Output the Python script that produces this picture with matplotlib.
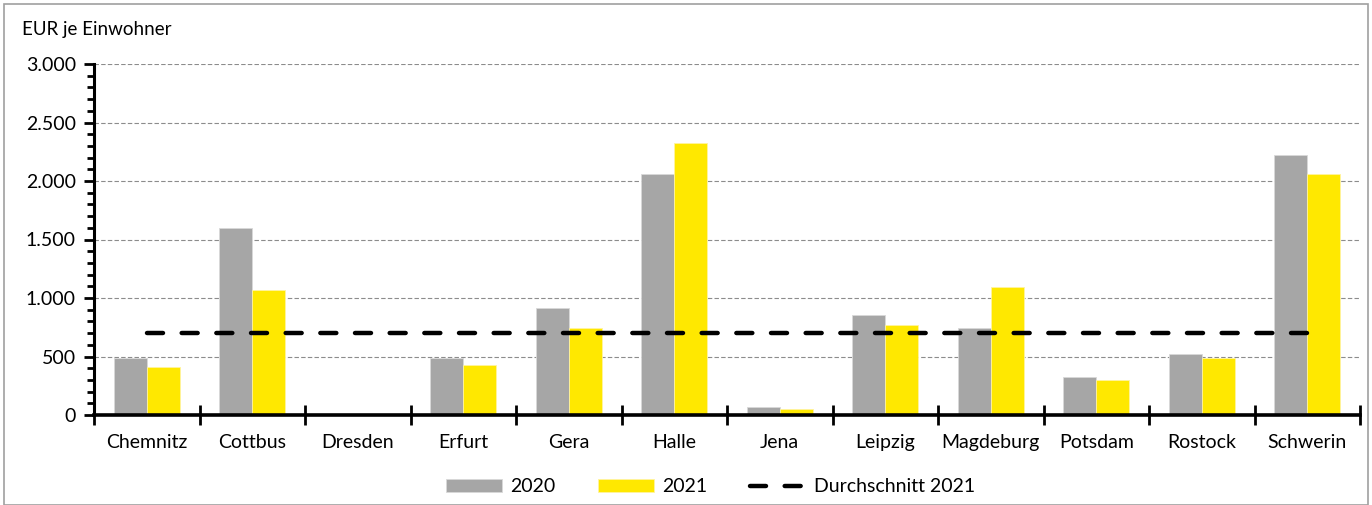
import numpy as np
import matplotlib.pyplot as plt
from matplotlib.patches import Rectangle
from matplotlib.ticker import MultipleLocator, FuncFormatter

staedte = ['Chemnitz', 'Cottbus', 'Dresden', 'Erfurt', 'Gera', 'Halle', 'Jena',
           'Leipzig', 'Magdeburg', 'Potsdam', 'Rostock', 'Schwerin']
werte_2020 = [487, 1600, 0, 490, 915, 2060, 68, 857, 745, 325, 521, 2225]
werte_2021 = [410, 1072, 0, 427, 745, 2328, 51, 770, 1095, 300, 487, 2060]
durchschnitt_2021 = 700

plt.rcParams['font.family'] = ['Lato', 'DejaVu Sans']

fig = plt.figure(figsize=(13.72, 5.05), dpi=100)
ax = fig.add_axes([94/1372, 90/505, 1266/1372, 351/505])

x = np.arange(len(staedte))
w = 0.315
b1 = ax.bar(x - w/2, werte_2020, w, color='#A6A6A6', edgecolor='#D9D9D9', linewidth=0.6, label='2020', zorder=2)
b2 = ax.bar(x + w/2, werte_2021, w, color='#FFE800', edgecolor='#FFF3A0', linewidth=0.6, label='2021', zorder=2)
l1, = ax.plot([x[0], x[-1]], [durchschnitt_2021, durchschnitt_2021], color='black', lw=3.2,
              linestyle=(0, (3.6, 4.2)), dash_capstyle='round', label='Durchschnitt 2021', zorder=3)

ax.set_xlim(-0.5, len(staedte) - 0.5)
ax.set_ylim(0, 3000)

ax.yaxis.set_major_locator(MultipleLocator(500))
ax.yaxis.set_minor_locator(MultipleLocator(100))
ax.yaxis.set_major_formatter(FuncFormatter(lambda v, p: f'{int(v):,}'.replace(',', '.')))
ax.grid(axis='y', which='major', linestyle=(0, (4, 2)), color='#8C8C8C', lw=0.8, zorder=0)

ax.set_xticks(np.arange(-0.5, len(staedte), 1))
ax.set_xticklabels([])
ax.set_xticks(x, minor=True)
ax.set_xticklabels(staedte, minor=True)
ax.tick_params(axis='x', which='major', direction='inout', length=14, width=2)
ax.tick_params(axis='x', which='minor', length=0, pad=14, labelsize=14)
ax.tick_params(axis='y', which='major', direction='out', length=7, width=2, labelsize=14, pad=6)
ax.tick_params(axis='y', which='minor', direction='out', length=5, width=2)

for s in ['top', 'right']:
    ax.spines[s].set_visible(False)
ax.spines['left'].set_linewidth(2.2)
ax.spines['bottom'].set_linewidth(2.6)

fig.text(22/1372, 1 - 30/505, 'EUR je Einwohner', fontsize=13.5, va='center', ha='left')

ax.legend([b1, b2, l1], ['2020', '2021', 'Durchschnitt 2021'], loc='center',
          bbox_to_anchor=(0.487, -0.205), ncol=3, frameon=False, fontsize=14,
          handlelength=2.9, handleheight=0.6, columnspacing=2.2, handletextpad=0.4)

fig.patches.append(Rectangle((4/1372, 0), 1 - 8/1372, 1 - 4/505, transform=fig.transFigure,
                             fill=False, edgecolor='#A0A0A0', lw=1.2))

fig.savefig('out.png', dpi=100)
